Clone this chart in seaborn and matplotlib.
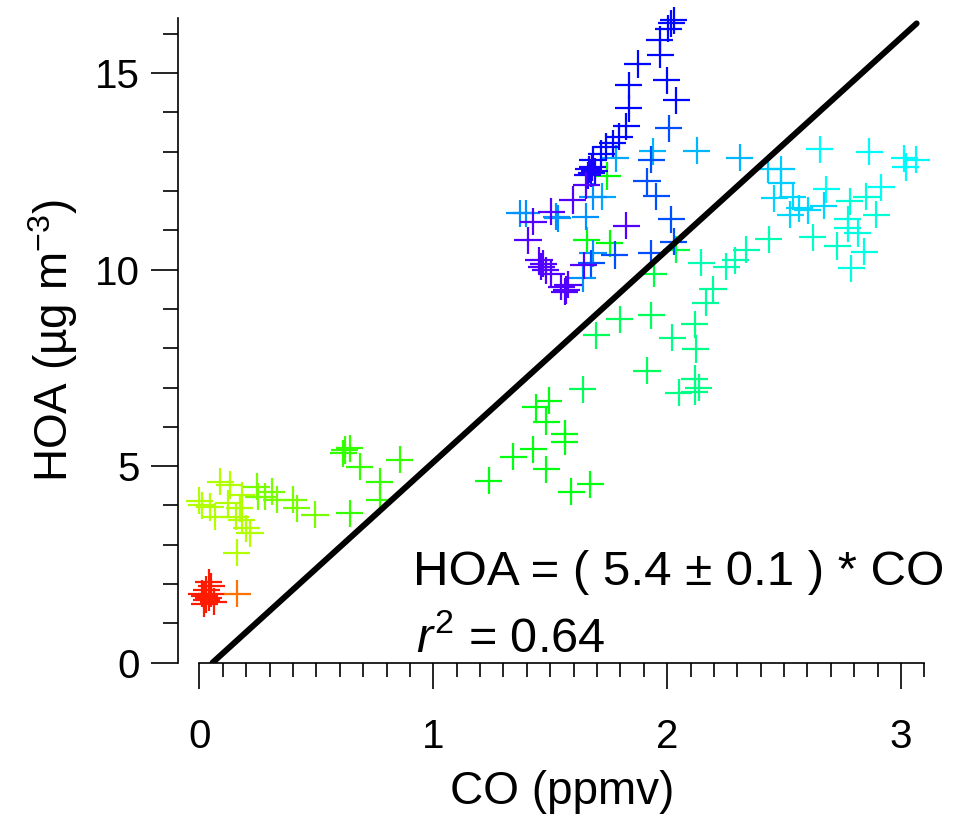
import numpy as np
import pandas as pd
import matplotlib
matplotlib.use("Agg")
import matplotlib.pyplot as plt
from matplotlib.colors import ListedColormap, hsv_to_rgb
from matplotlib.ticker import MultipleLocator
import seaborn as sns

# CO (ppmv), HOA (ug m-3) and relative sampling order (0 = first, 1 = last)
co = [
    0.02, 0.03, 0.04, 0.03, 0.05, 0.06, 0.02, 0.04, 0.01, 0.05,
    0.162,
    0.16, 0.0, 0.045, 0.066, 0.088, 0.13, 0.123, 0.173, 0.18, 0.20, 0.216, 0.18, 0.156, 0.01,
    0.244, 0.251, 0.28, 0.309, 0.33, 0.40, 0.415, 0.494,
    0.643, 0.771, 0.771, 0.857, 0.686, 0.622, 0.643, 0.614,
    1.238, 1.341, 1.427, 1.484, 1.562, 1.562, 1.59, 1.672, 1.438, 1.494, 1.484,
    1.64, 1.697, 1.797, 1.932, 1.914, 1.942, 2.039,
    2.022, 2.118, 2.122, 2.05, 2.118, 2.136, 2.118, 2.165, 2.196,
    2.146, 2.253, 2.291, 2.338, 2.435, 2.623, 2.727,
    2.787, 2.844, 2.815, 2.773, 2.773, 2.78, 2.852, 2.895,
    2.915, 2.68, 2.652, 2.865, 3.015, 3.065, 3.02,
    2.669, 2.602, 2.566, 2.526, 2.459, 2.538, 2.488, 2.488, 2.431,
    2.31, 2.127, 1.939, 1.78, 1.723,
    1.754, 1.743, 1.657,
    1.37, 1.398, 1.526, 1.533, 1.652, 1.683, 1.683, 1.64,
    2.006, 1.932, 1.914, 1.954, 2.018, 2.028, 1.932, 1.776, 1.676,
    1.683, 1.719, 1.74, 1.768, 1.794, 1.826, 1.835, 1.835, 1.875, 1.971,
    1.968, 2.004, 2.018, 2.029, 1.999, 2.039,
    1.665, 1.675, 1.68, 1.69, 1.66,
    1.655, 1.597, 1.505, 1.427, 1.405, 1.452, 1.462, 1.47, 1.48, 1.505,
    1.548, 1.562, 1.576, 1.569, 1.643, 1.826,
]
hoa = [
    1.70, 1.85, 2.05, 1.60, 1.75, 1.55, 1.50, 1.65, 1.75, 1.95,
    1.75,
    2.80, 4.12, 3.96, 3.71, 4.60, 4.52, 4.05, 3.93, 3.63, 3.42, 3.29, 4.26, 3.71, 4.01,
    4.48, 4.22, 4.22, 4.35, 4.14, 4.14, 3.93, 3.76,
    3.80, 4.14, 4.60, 5.16, 4.98, 5.41, 5.45, 5.33,
    4.63, 5.24, 5.43, 4.92, 5.83, 5.62, 4.35, 4.54, 6.50, 6.66, 6.13,
    6.95, 8.33, 8.74, 8.84, 7.43, 9.90, 10.50,
    8.27, 8.61, 7.98, 6.87, 7.22, 7.00, 6.89, 9.16, 9.50,
    10.18, 10.07, 10.24, 10.50, 10.77, 10.82, 10.60,
    10.03, 10.45, 10.92, 11.05, 11.28, 11.74, 11.85, 11.39,
    12.09, 12.04, 13.06, 13.00, 12.83, 12.79, 12.61,
    11.62, 11.51, 11.56, 11.39, 11.81, 11.85, 12.21, 12.55, 12.55,
    12.84, 13.02, 13.01, 12.83, 11.85,
    10.67, 12.38, 10.75,
    11.43, 11.43, 11.34, 11.30, 11.34, 11.85, 10.41, 9.78,
    13.59, 12.79, 12.25, 11.87, 11.28, 10.71, 10.41, 10.37, 10.16,
    12.79, 12.95, 13.12, 13.21, 13.38, 13.65, 14.10, 14.69, 15.23, 15.46,
    15.85, 16.13, 16.26, 16.34, 14.82, 14.31,
    12.55, 12.45, 12.60, 12.50, 12.40,
    12.15, 11.77, 11.47, 11.22, 10.75, 10.24, 10.07, 10.15, 9.98, 9.90,
    9.56, 9.44, 9.61, 9.48, 10.11, 11.11,
]
order = (
    [0.025] * 10
    + [0.10]
    + [0.29] * 14
    + [0.34] * 8
    + [0.40] * 8
    + [0.46] * 11
    + [0.52] * 5 + [0.50] * 2
    + [0.56] * 7 + [0.58] * 2
    + [0.60] * 5 + [0.62] * 2
    + [0.64] * 5 + [0.63] * 3
    + [0.66] * 2 + [0.67] * 5
    + [0.70] * 6 + [0.71] * 3
    + [0.73] * 3 + [0.74] * 2
    + [0.45] * 3
    + [0.76] * 8
    + [0.82] * 9
    + [0.88] * 16
    + [0.91] * 5
    + [0.96] * 16
)

# Fitted line: HOA = 5.4 * CO + b, drawn over the sampled CO range
fit_slope = 5.4
fit_intercept = -0.30
fit_co = [0.056, 3.067]

df = pd.DataFrame({"CO": co, "HOA": hoa, "order": order})

# Rainbow running red -> yellow -> green -> cyan -> blue -> violet
hues = np.linspace(0.0, 0.75, 256)
rainbow = ListedColormap(hsv_to_rgb(np.column_stack([hues, np.ones(256), np.ones(256)])))

sns.set_style("ticks")
plt.rcParams["font.family"] = ["Liberation Sans", "DejaVu Sans"]
plt.rcParams["mathtext.fontset"] = "custom"
plt.rcParams["mathtext.rm"] = "Liberation Sans"
plt.rcParams["mathtext.it"] = "Liberation Sans:italic"
plt.rcParams["text.color"] = "black"
plt.rcParams["axes.labelcolor"] = "black"

fig = plt.figure(figsize=(9.55, 8.21), dpi=100)
ax = fig.add_axes([0.1867, 0.1928, 0.7812, 0.7853])

sns.scatterplot(
    data=df, x="CO", y="HOA", hue="order", palette=rainbow, hue_norm=(0, 1),
    marker="+", s=380, linewidth=1.6, legend=False, ax=ax, clip_on=False, zorder=2,
)

line_x = np.array(fit_co)
sns.lineplot(x=line_x, y=fit_slope * line_x + fit_intercept, color="black",
             linewidth=4.3, ax=ax, zorder=3, solid_capstyle="round")

ax.set_xlim(-0.0906, 3.1)
ax.set_ylim(0, 16.4)

for side in ("top", "right"):
    ax.spines[side].set_visible(False)
ax.spines["bottom"].set_bounds(0, 3.1)
for side in ("left", "bottom"):
    ax.spines[side].set_linewidth(1.2)
    ax.spines[side].set_color("black")

ax.xaxis.set_major_locator(MultipleLocator(1))
ax.xaxis.set_minor_locator(MultipleLocator(0.1))
ax.yaxis.set_major_locator(MultipleLocator(5))
ax.yaxis.set_minor_locator(MultipleLocator(1))

ax.tick_params(axis="x", which="major", direction="out", length=18.7, width=1.2,
               pad=21, labelsize=29, colors="black")
ax.tick_params(axis="x", which="minor", direction="out", length=10, width=1.2, colors="black")
ax.tick_params(axis="y", which="major", direction="out", length=19.5, width=1.2,
               pad=8, labelsize=29, colors="black")
ax.tick_params(axis="y", which="minor", direction="out", length=11, width=1.2, colors="black")

ax.set_xlabel("CO (ppmv)", fontsize=33, color="black")
ax.set_ylabel("HOA (µg m$^{-3}$)", fontsize=33, color="black")
ax.xaxis.set_label_coords(0.514, -0.166)
ax.yaxis.set_label_coords(-0.132, 0.5)

ax.text(0.314, 0.121, "HOA = ( 5.4 ± 0.1 ) * CO", transform=ax.transAxes,
        fontsize=35.5, ha="left", va="baseline", color="black")
ax.text(0.318, 0.017, "$r^{2}$ = 0.64", transform=ax.transAxes,
        fontsize=35, ha="left", va="baseline", color="black")

fig.savefig("out.png", dpi=100)
